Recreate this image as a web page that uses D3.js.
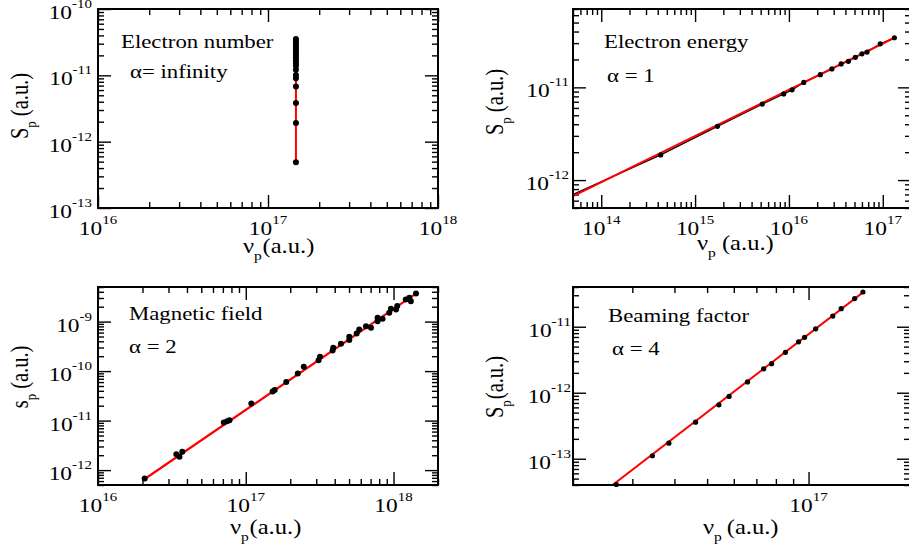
<!DOCTYPE html>
<html>
<head>
<meta charset="utf-8">
<script src="https://cdn.jsdelivr.net/npm/d3@7"></script>
<style>
  body { margin: 0; background: #fff; }
  svg text { font-family: "Liberation Serif", "Times New Roman", serif; fill: #000; }
</style>
</head>
<body>
<svg id="fig" width="909" height="548"></svg>
<script>
// ---- data ----
// electron number: all points share one peak frequency
const numberNu = 1.46e17;
const numberS = [4.9e-13, 1.91e-12, 3.84e-12, 6.76e-12, 9.0e-12, 1.01e-11, 1.21e-11, 1.40e-11,
    1.52e-11, 1.69e-11, 1.85e-11, 2.03e-11, 2.23e-11, 2.44e-11, 2.68e-11, 2.94e-11, 3.22e-11, 3.54e-11];
const numberFitS = [4.9e-13, 3.54e-11];

// electron energy
const energyNu = [4.0e13, 4.3e14, 1.73e15, 5.2e15, 8.8e15, 1.08e16, 1.44e16, 2.16e16, 2.87e16,
    3.6e16, 4.3e16, 5.1e16, 6.0e16, 6.8e16, 9.4e16, 1.33e17];
const energyS = [6.3e-13, 1.87e-12, 3.8e-12, 6.6e-12, 8.5e-12, 9.4e-12, 1.13e-11, 1.37e-11, 1.58e-11,
    1.79e-11, 1.91e-11, 2.11e-11, 2.3e-11, 2.4e-11, 2.95e-11, 3.43e-11];
const energyFitNu = [5.0e13, 1.35e17];
const energyFitS = [6.7e-13, 3.45e-11];

// magnetic field
const fieldNu = [2.07e16, 3.39e16, 3.56e16, 3.72e16, 7.1e16, 7.48e16, 7.76e16, 1.09e17, 1.52e17,
    1.57e17, 1.88e17, 2.25e17, 2.47e17, 3.11e17, 3.18e17, 3.87e17, 3.91e17, 4.41e17, 5.02e17,
    5.02e17, 5.63e17, 5.86e17, 6.51e17, 7.04e17, 7.8e17, 7.8e17, 8.43e17, 9.36e17, 9.6e17,
    1.04e18, 1.06e18, 1.21e18, 1.28e18, 1.31e18, 1.42e18];
const fieldS = [6.8e-13, 2.1e-12, 1.85e-12, 2.34e-12, 9.2e-12, 9.7e-12, 1.02e-11, 2.21e-11, 3.86e-11,
    4.16e-11, 6.0e-11, 8.9e-11, 1.23e-10, 1.65e-10, 1.96e-10, 2.62e-10, 2.98e-10, 3.58e-10, 4.24e-10,
    4.96e-10, 5.78e-10, 6.96e-10, 8.1e-10, 7.5e-10, 1.02e-9, 1.2e-9, 1.14e-9, 1.51e-9, 1.82e-9,
    1.76e-9, 2.06e-9, 2.8e-9, 3.03e-9, 2.59e-9, 3.71e-9];
const fieldFitNu = [2.07e16, 1.45e18];
const fieldFitS = [6.6e-13, 3.85e-9];

// beaming factor
const beamNu = [2.69e16, 3.44e16, 3.85e16, 4.62e16, 5.42e16, 5.81e16, 6.59e16, 7.36e16, 7.77e16,
    8.54e16, 9.34e16, 9.73e16, 1.05e17, 1.18e17, 1.25e17, 1.37e17, 1.45e17];
const beamS = [4.07e-14, 1.11e-13, 1.72e-13, 3.58e-13, 6.57e-13, 8.8e-13, 1.46e-12, 2.3e-12, 2.76e-12,
    4.1e-12, 5.9e-12, 6.9e-12, 9.3e-12, 1.45e-11, 1.88e-11, 2.67e-11, 3.36e-11];
const beamFitNu = [2.62e16, 1.46e17];
const beamFitS = [4.0e-14, 3.4e-11];

// labelled decades (exponents) per panel
const numberXLabels = [16, 17, 18], numberYLabels = [-13, -12, -11, -10];
const energyXLabels = [14, 15, 16, 17], energyYLabels = [-12, -11];
const fieldXLabels = [16, 17, 18], fieldYLabels = [-12, -11, -10, -9];
const beamXLabels = [17], beamYLabels = [-13, -12, -11];

// ---- layout ----
const SX = 1.2;   // text is drawn a bit wide
const svg = d3.select("#fig");

const panels = [
  { id: "p1", x0: 98, x1: 438, y0: 9, y1: 208, xd: [1e16, 1e18], yd: [1e-13, 1e-10],
    pts: numberS.map(s => [numberNu, s]), fit: numberFitS.map(s => [numberNu, s]), r: 3, fitW: 2,
    xLab: numberXLabels, yLab: numberYLabels, yLabGap: 6,
    notes: [["Electron number", 121, 48], ["\u03b1= infinity", 130, 78]],
    xTitle: { x: 243, y: 253, dx: 0.5 }, yTitle: { x: 28, y: 106, sym: "S", dx: 0 } },
  { id: "p2", x0: 573, x1: 911, y0: 9, y1: 208, xd: [5e13, 2e17], yd: [5e-13, 7e-11],
    pts: energyNu.map((v, i) => [v, energyS[i]]), fit: energyFitNu.map((v, i) => [v, energyFitS[i]]),
    link: true, r: 2.6, fitW: 2,
    xLab: energyXLabels, yLab: energyYLabels, yLabGap: 4,
    notes: [["Electron energy", 604, 48], ["\u03b1 = 1", 607, 82]],
    xTitle: { x: 697, y: 250, dx: 5 }, yTitle: { x: 503, y: 102, sym: "S", dx: 0 } },
  { id: "p3", x0: 98, x1: 438, y0: 287, y1: 485, xd: [1e16, 2e18], yd: [5e-13, 5e-9],
    pts: fieldNu.map((v, i) => [v, fieldS[i]]), fit: fieldFitNu.map((v, i) => [v, fieldFitS[i]]),
    r: 3, fitW: 2.2,
    xLab: fieldXLabels, yLab: fieldYLabels, yLabGap: 6,
    notes: [["Magnetic field", 129, 320], ["\u03b1 = 2", 129, 353]],
    xTitle: { x: 230, y: 534, dx: 0.5 }, yTitle: { x: 28, y: 377, sym: "s", dx: 0 } },
  { id: "p4", x0: 573, x1: 910, y0: 287, y1: 485, xd: [2e16, 2e17], yd: [4e-14, 4e-11],
    pts: beamNu.map((v, i) => [v, beamS[i]]), fit: beamFitNu.map((v, i) => [v, beamFitS[i]]),
    r: 2.6, fitW: 2,
    xLab: beamXLabels, yLab: beamYLabels, yLabGap: 2,
    notes: [["Beaming factor", 608, 322], ["\u03b1 = 4", 612, 355]],
    xTitle: { x: 703, y: 534, dx: 4 }, yTitle: { x: 503, y: 387, sym: "S", dx: -4 } }
];

const isDecade = v => Math.abs(Math.log10(v) - Math.round(Math.log10(v))) < 1e-9;

function tickAxis(g, axis, values, size, transform) {
  g.append("g")
    .attr("transform", transform)
    .call(axis.tickValues(values).tickSize(size).tickSizeOuter(0).tickFormat(""))
    .call(a => a.select(".domain").remove())
    .call(a => a.selectAll("text").remove())
    .selectAll("line").attr("stroke-width", 1.4);
}

function powLabel(g, x, y, exp, anchor) {
  const t = g.append("text")
    .attr("transform", `translate(${x},${y}) scale(${SX},1)`)
    .attr("text-anchor", anchor)
    .attr("font-size", 19.5);
  t.append("tspan").text("10");
  t.append("tspan").attr("dy", -11).attr("font-size", 12.5).text(exp);
}

panels.forEach(p => {
  const g = svg.append("g");
  const x = d3.scaleLog().domain(p.xd).range([p.x0, p.x1]);
  const y = d3.scaleLog().domain(p.yd).range([p.y1, p.y0]);

  // lines are cut at the frame; dots may sit on it
  g.append("clipPath").attr("id", "clip-" + p.id)
    .append("rect")
    .attr("x", p.x0).attr("y", p.y0)
    .attr("width", p.x1 - p.x0).attr("height", p.y1 - p.y0);
  g.append("clipPath").attr("id", "dclip-" + p.id)
    .append("rect")
    .attr("x", p.x0 - 4).attr("y", p.y0 - 4)
    .attr("width", p.x1 - p.x0 + 8).attr("height", p.y1 - p.y0 + 8);

  // inward ticks on all four sides
  const xt = x.ticks().filter(v => v >= p.xd[0] * 0.999 && v <= p.xd[1] * 1.001);
  const yt = y.ticks().filter(v => v >= p.yd[0] * 0.999 && v <= p.yd[1] * 1.001);
  const xMaj = xt.filter(isDecade), xMin = xt.filter(v => !isDecade(v));
  const yMaj = yt.filter(isDecade), yMin = yt.filter(v => !isDecade(v));
  [[xMin, 6], [xMaj, 13]].forEach(([vals, len]) => {
    tickAxis(g, d3.axisBottom(x), vals, -len, `translate(0,${p.y1})`);
    tickAxis(g, d3.axisTop(x), vals, -len, `translate(0,${p.y0})`);
  });
  [[yMin, 6], [yMaj, 13]].forEach(([vals, len]) => {
    tickAxis(g, d3.axisLeft(y), vals, -len, `translate(${p.x0},0)`);
    tickAxis(g, d3.axisRight(y), vals, -len, `translate(${p.x1},0)`);
  });

  const plot = g.append("g").attr("clip-path", `url(#clip-${p.id})`);
  const line = d3.line().x(d => x(d[0])).y(d => y(d[1]));

  if (p.link) {
    plot.append("path").datum(p.pts).attr("d", line)
      .attr("fill", "none").attr("stroke", "#000").attr("stroke-width", 1.3);
  }
  plot.append("path").datum(p.fit).attr("d", line)
    .attr("fill", "none").attr("stroke", "#ff0000").attr("stroke-width", p.fitW);

  g.append("rect")
    .attr("x", p.x0).attr("y", p.y0)
    .attr("width", p.x1 - p.x0).attr("height", p.y1 - p.y0)
    .attr("fill", "none").attr("stroke", "#000").attr("stroke-width", 2);

  g.append("g").attr("clip-path", `url(#dclip-${p.id})`)
    .selectAll("circle").data(p.pts).join("circle")
    .attr("cx", d => x(d[0])).attr("cy", d => y(d[1])).attr("r", p.r)
    .attr("fill", "#000");

  // tick labels
  p.xLab.forEach(e => powLabel(g, x(Math.pow(10, e)), p.y1 + 27, String(e), "middle"));
  p.yLab.forEach(e => powLabel(g, p.x0 - p.yLabGap, y(Math.pow(10, e)) + 10, String(e), "end"));

  // annotations
  p.notes.forEach(([txt, tx, ty]) => {
    g.append("text")
      .attr("transform", `translate(${tx},${ty}) scale(${SX},1)`)
      .attr("font-size", 19).text(txt);
  });

  // axis titles
  const xtl = g.append("text")
    .attr("transform", `translate(${p.xTitle.x},${p.xTitle.y}) scale(${SX},1)`)
    .attr("font-size", 20.5);
  xtl.append("tspan").text("\u03bd");
  xtl.append("tspan").attr("dy", 7).attr("font-size", 13).text("p");
  xtl.append("tspan").attr("dy", -7).attr("dx", p.xTitle.dx).text("(a.u.)");

  const ytl = g.append("text")
    .attr("transform", `translate(${p.yTitle.x},${p.yTitle.y}) scale(${SX},1) rotate(-90)`)
    .attr("text-anchor", "middle")
    .attr("font-size", 20.5);
  ytl.append("tspan").text(p.yTitle.sym);
  ytl.append("tspan").attr("dy", 7).attr("font-size", 13).text("p");
  ytl.append("tspan").attr("dy", -7).attr("dx", 5 + p.yTitle.dx).text("(a.u.)");
});
</script>
</body>
</html>
